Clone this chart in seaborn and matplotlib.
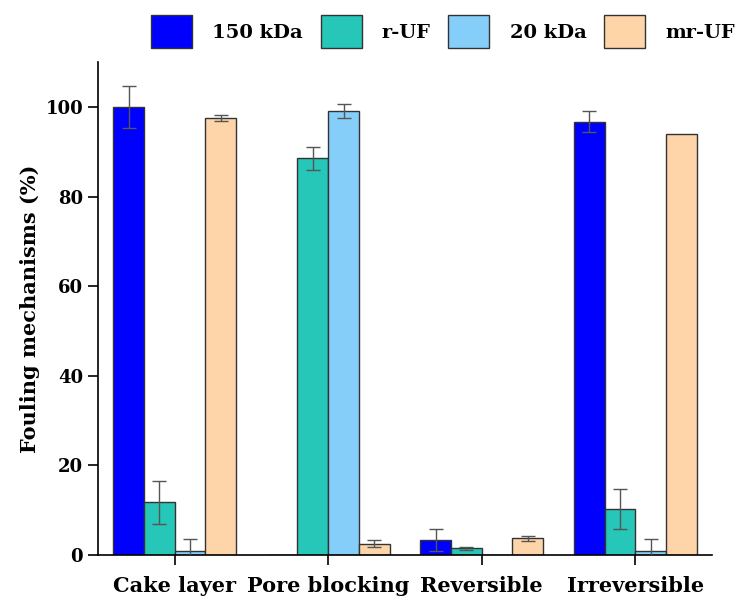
import numpy as np
import pandas as pd
import matplotlib
matplotlib.use("Agg")
import matplotlib.pyplot as plt
import seaborn as sns

categories = ["Cake layer", "Pore blocking", "Reversible", "Irreversible"]
series = ["150 kDa", "r-UF", "20 kDa", "mr-UF"]

# Mean fouling contribution (%) per mechanism for each membrane
val_150kda = [100.0, 0.0, 3.4, 96.7]
val_ruf = [11.8, 88.5, 1.5, 10.3]
val_20kda = [0.9, 99.1, 0.0, 0.9]
val_mruf = [97.5, 2.5, 3.7, 93.9]

# Standard deviations
err_150kda = [4.7, 0.0, 2.4, 2.3]
err_ruf = [4.8, 2.5, 0.3, 4.4]
err_20kda = [2.7, 1.5, 0.0, 2.7]
err_mruf = [0.6, 0.8, 0.5, 0.0]

colors = ["#0000FF", "#26C6B8", "#86CEFA", "#FDD5A8"]

values = [val_150kda, val_ruf, val_20kda, val_mruf]
errors = [err_150kda, err_ruf, err_20kda, err_mruf]

rows = []
for s, vals, errs in zip(series, values, errors):
    for c, v, e in zip(categories, vals, errs):
        rows.append({"Mechanism": c, "Membrane": s, "Value": v, "Err": e})
df = pd.DataFrame(rows)

sns.set_theme(style="ticks")
plt.rcParams["font.family"] = ["DejaVu Serif"]
plt.rcParams["font.weight"] = "bold"
plt.rcParams["text.color"] = "black"
plt.rcParams["axes.labelcolor"] = "black"
plt.rcParams["xtick.color"] = "black"
plt.rcParams["ytick.color"] = "black"

fig = plt.figure(figsize=(7.41, 6.03), dpi=100)
ax = fig.add_axes([0.132, 0.0796, 0.829, 0.8174])

sns.barplot(data=df, x="Mechanism", y="Value", hue="Membrane",
            order=categories, hue_order=series, palette=colors,
            width=0.8, errorbar=None, edgecolor="#333333", linewidth=1.0,
            saturation=1.0, ax=ax, legend=True)

# Error bars placed at the centres of the drawn bars
bars = [p for p in ax.patches if p.get_width() > 0][:len(df)]
for i, s in enumerate(series):
    for j, c in enumerate(categories):
        p = bars[i * len(categories) + j]
        e = errors[i][j]
        if e <= 0:
            continue
        xc = p.get_x() + p.get_width() / 2
        ax.errorbar(xc, values[i][j], yerr=e, fmt="none", ecolor="#555555",
                    elinewidth=1.0, capsize=5, capthick=1.0, zorder=5)

ax.set_ylim(0, 110)
ax.set_xlim(-0.5, 3.5)
ax.set_yticks([0, 20, 40, 60, 80, 100])
ax.set_xlabel("")
ax.set_ylabel("Fouling mechanisms (%)", fontsize=15, fontweight="bold", color="black")
sns.despine(ax=ax)
for sp in ["left", "bottom"]:
    ax.spines[sp].set_color("black")
    ax.spines[sp].set_linewidth(1.2)
ax.tick_params(axis="both", direction="out", length=7, width=1.2, colors="black")
ax.tick_params(axis="x", labelsize=15, pad=8)
ax.tick_params(axis="y", labelsize=13)
for lab in ax.get_xticklabels() + ax.get_yticklabels():
    lab.set_fontweight("bold")
    lab.set_color("black")

handles, labels = ax.get_legend_handles_labels()
leg = ax.legend(handles, labels, loc="center", bbox_to_anchor=(0.562, 1.062),
                ncol=4, frameon=False, handlelength=2.1, handleheight=2.2,
                columnspacing=0.9, handletextpad=1.05, borderaxespad=0.0,
                borderpad=0.0, prop={"weight": "bold", "size": 14})
for t in leg.get_texts():
    t.set_color("black")

fig.savefig("out.png", dpi=100)
